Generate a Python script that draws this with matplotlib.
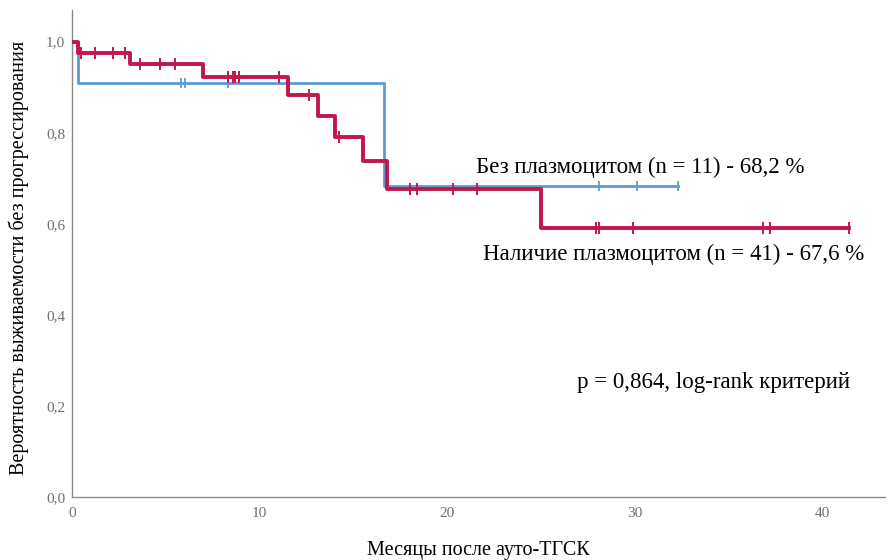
import matplotlib
matplotlib.use("Agg")
import matplotlib.pyplot as plt
from matplotlib.ticker import FuncFormatter

# Без плазмоцитом: моменты событий и доля без прогрессирования
blue_t = [0, 0.3, 16.6, 32.3]
blue_s = [1.0, 0.909, 0.682, 0.682]
blue_cens = [5.8, 6.0, 8.3, 28.1, 30.1, 32.3]

# Наличие плазмоцитом
red_t = [0, 0.3, 3.1, 7.0, 11.5, 13.1, 14.0, 15.5, 16.8, 25.0, 41.4]
red_s = [1.0, 0.976, 0.951, 0.922, 0.883, 0.837, 0.791, 0.738, 0.676, 0.591, 0.591]
red_cens = [0.5, 1.2, 2.2, 2.8, 3.6, 4.7, 5.5, 8.3, 8.6, 8.7, 8.9, 11.0,
            12.6, 14.2, 18.0, 18.4, 20.3, 21.6, 27.9, 28.1, 29.9, 36.8, 37.2, 41.4]

blue_c = "#5b9bd5"
red_c = "#c3174b"
grey = "#6e6e6e"


def level_at(t, s, x):
    val = s[0]
    for ti, si in zip(t, s):
        if ti <= x:
            val = si
    return val


plt.rcParams["font.family"] = ["Liberation Serif", "DejaVu Serif"]

fig = plt.figure(figsize=(8.9, 5.6), dpi=100)
ax = fig.add_axes([0.081, 0.1125, 0.913, 0.87])

ax.step(blue_t, blue_s, where="post", color=blue_c, lw=2.0, zorder=2)
ax.plot(blue_cens, [level_at(blue_t, blue_s, x) for x in blue_cens], ls="none",
        marker="|", ms=7, mew=1.3, color=blue_c, zorder=2)

ax.step(red_t, red_s, where="post", color=red_c, lw=2.8, zorder=3)
ax.plot(red_cens, [level_at(red_t, red_s, x) for x in red_cens], ls="none",
        marker="|", ms=8, mew=1.4, color=red_c, zorder=3)

ax.set_xlim(0, 43.3)
ax.set_ylim(0, 1.07)
ax.set_xticks([0, 10, 20, 30, 40])
ax.set_yticks([0, 0.2, 0.4, 0.6, 0.8, 1.0])
ax.yaxis.set_major_formatter(FuncFormatter(lambda v, p: f"{v:.1f}".replace(".", ",")))

for side in ["top", "right"]:
    ax.spines[side].set_visible(False)
for side in ["left", "bottom"]:
    ax.spines[side].set_color("#8a8a8a")
    ax.spines[side].set_linewidth(1.0)
ax.tick_params(length=0, labelsize=11, colors=grey)
ax.tick_params(axis="y", pad=5)
ax.tick_params(axis="x", pad=7)

ax.set_xlabel("Месяцы после ауто-ТГСК", fontsize=14.5, labelpad=15)
ax.set_ylabel("Вероятность выживаемости без прогрессирования", fontsize=14.5)
ax.yaxis.set_label_coords(-0.053, 0.49)

ax.text(21.5, 0.723, "Без плазмоцитом (n = 11) - 68,2 %", fontsize=16.5, va="center")
ax.text(21.9, 0.532, "Наличие плазмоцитом (n = 41) - 67,6 %", fontsize=16.5, va="center")
ax.text(26.9, 0.251, "p = 0,864, log-rank критерий", fontsize=16.5, va="center")

fig.savefig("out.png", dpi=100)
